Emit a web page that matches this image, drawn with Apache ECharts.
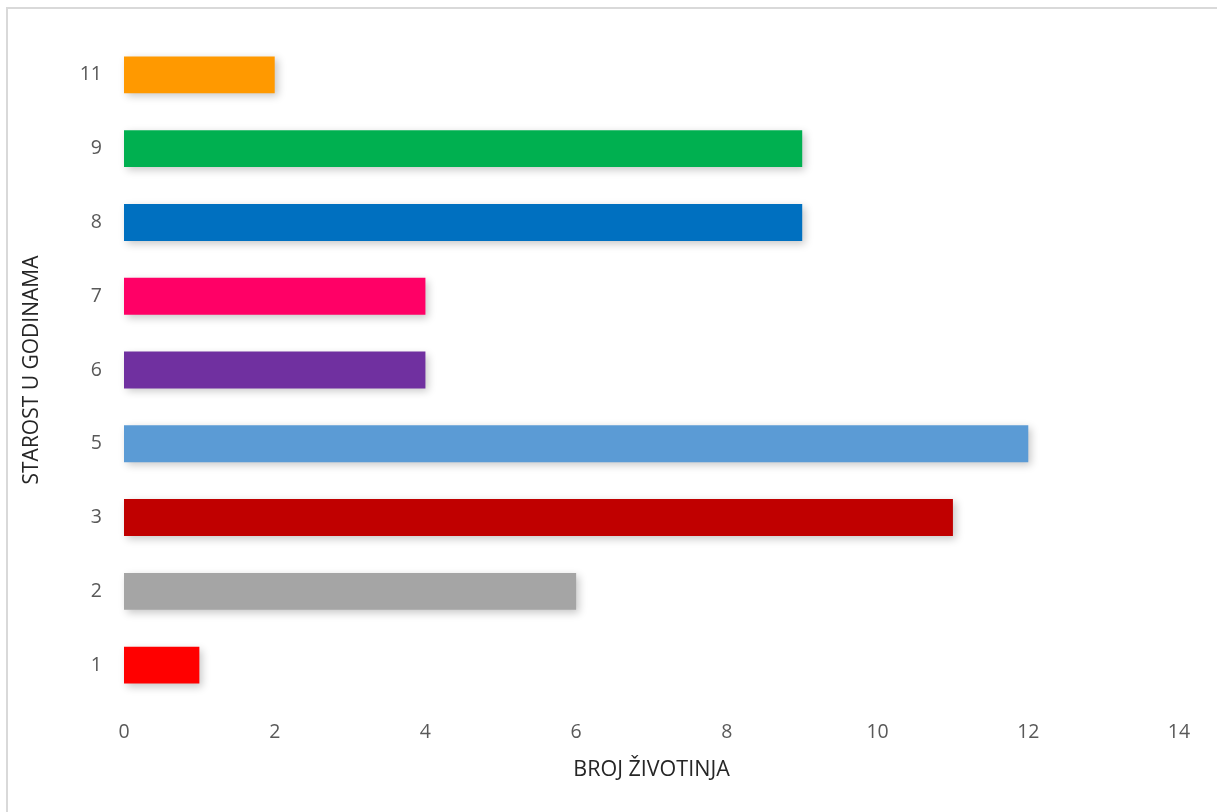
<!DOCTYPE html>
<html>
<head>
<meta charset="utf-8">
<script src="https://cdn.jsdelivr.net/npm/echarts@6/dist/echarts.min.js"></script>
<style>
html,body{margin:0;padding:0;background:#fff;}
#wrap{position:relative;width:1217px;height:812px;overflow:hidden;}
#frame{position:absolute;left:6px;top:7px;width:1230px;height:830px;border:2px solid #d9d9d9;box-sizing:border-box;}
#chart{position:absolute;left:0;top:0;width:1217px;height:812px;}
</style>
</head>
<body>
<div id="wrap"><div id="frame"></div><div id="chart"></div></div>
<script>
const categories = ['1','2','3','5','6','7','8','9','11'];
const values = [1, 6, 11, 12, 4, 4, 9, 9, 2];
const colors = ['#FF0000','#A5A5A5','#C00000','#5B9BD5','#7030A0','#FF0066','#0070C0','#00B050','#FF9900'];
const xTicks = [0, 2, 4, 6, 8, 10, 12, 14];

const chart = echarts.init(document.getElementById('chart'));
const font = '"Open Sans", "Noto Sans", sans-serif';
chart.setOption({
  animation: false,
  grid: {left: 124, right: 38, top: 38, bottom: 110, containLabel: false},
  xAxis: {
    type: 'value', min: xTicks[0], max: xTicks[xTicks.length-1], interval: 2,
    name: 'BROJ ŽIVOTINJA', nameLocation: 'middle', nameGap: 57,
    nameTextStyle: {color: '#262626', fontSize: 21.5, fontFamily: font},
    axisLine: {show: false}, axisTick: {show: false}, splitLine: {show: false},
    axisLabel: {color: '#595959', fontSize: 19.5, fontFamily: font, margin: 20}
  },
  yAxis: {
    type: 'category', data: categories,
    name: 'STAROST U GODINAMA', nameLocation: 'middle', nameGap: 81, nameRotate: 90,
    nameTextStyle: {color: '#262626', fontSize: 21, fontFamily: font},
    axisLine: {show: false}, axisTick: {show: false}, splitLine: {show: false},
    axisLabel: {color: '#595959', fontSize: 19.5, fontFamily: font, margin: 22}
  },
  series: [{
    type: 'bar', barWidth: '50%',
    data: values.map((v, i) => ({value: v, itemStyle: {color: colors[i]}})),
    itemStyle: {shadowBlur: 8, shadowColor: 'rgba(0,0,0,0.22)', shadowOffsetX: 3, shadowOffsetY: 3}
  }]
});
</script>
</body>
</html>
